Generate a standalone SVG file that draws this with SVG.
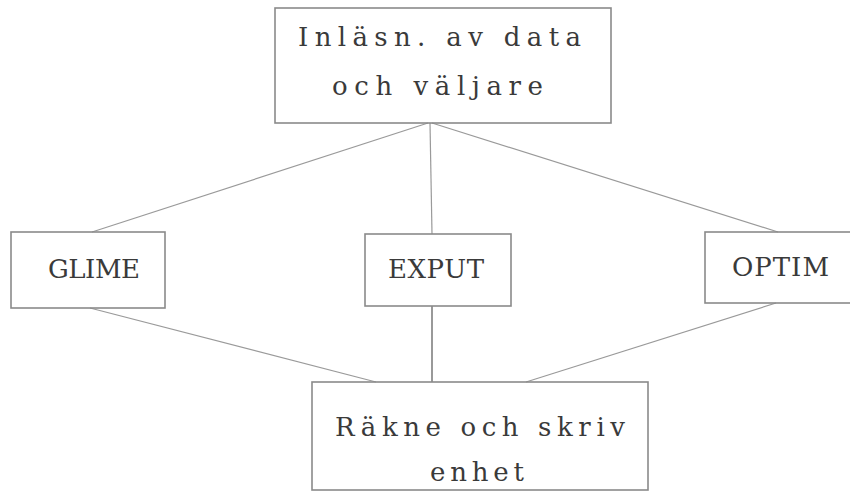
<svg xmlns="http://www.w3.org/2000/svg" width="850" height="492" viewBox="0 0 850 492">
<style>
.box{fill:none;stroke:#8a8a8a;stroke-width:1.6}
.edge{stroke:#9a9a9a;stroke-width:1.2;fill:none}
.t{font-family:"DejaVu Serif","Liberation Serif",serif;font-size:26px;fill:#3a3a3a}
</style>
<rect width="850" height="492" fill="#fff"/>
<g id="connectors">
<line class="edge" x1="428" y1="123" x2="92" y2="232"/>
<line class="edge" x1="430" y1="123" x2="432" y2="234"/>
<line class="edge" x1="432" y1="123" x2="778" y2="232"/>
<line class="edge" x1="90" y1="308" x2="376" y2="382"/>
<line class="edge" x1="432" y1="306" x2="432" y2="382" style="stroke:#555"/>
<line class="edge" x1="776" y1="303" x2="526" y2="382"/>
</g>
<g id="top">
<rect class="box" x="275" y="8" width="336" height="115"/>
<text class="t" x="298" y="46" textLength="283" lengthAdjust="spacing">Inläsn. av data</text>
<text class="t" x="332" y="95" textLength="211" lengthAdjust="spacing">och väljare</text>
</g>
<g id="glime">
<rect class="box" x="11" y="232" width="154" height="76"/>
<text class="t" x="48" y="278" textLength="92" lengthAdjust="spacing">GLIME</text>
</g>
<g id="exput">
<rect class="box" x="365" y="234" width="146" height="72"/>
<text class="t" x="388" y="278" textLength="96" lengthAdjust="spacing">EXPUT</text>
</g>
<g id="optim">
<rect class="box" x="705" y="232" width="150" height="71"/>
<text class="t" x="732" y="276" textLength="97" lengthAdjust="spacing">OPTIM</text>
</g>
<g id="bottom">
<rect class="box" x="312" y="382" width="336" height="108"/>
<text class="t" x="335" y="436" textLength="290" lengthAdjust="spacing">Räkne och skriv</text>
<text class="t" x="430" y="481" textLength="94" lengthAdjust="spacing">enhet</text>
</g>
</svg>
